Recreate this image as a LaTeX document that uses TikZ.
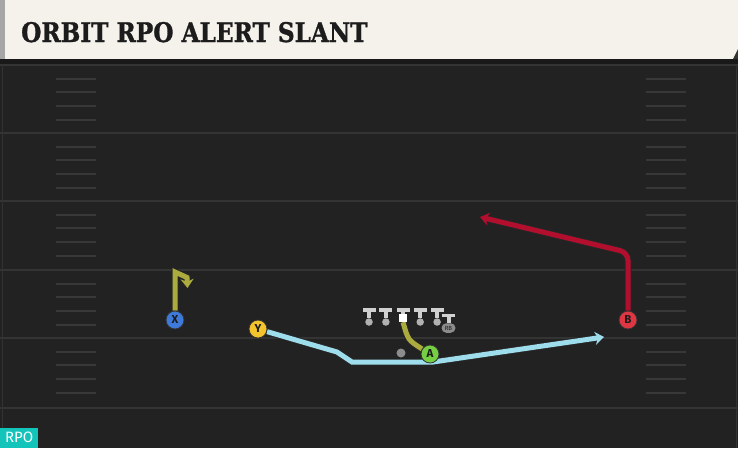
\documentclass[tikz,border=0pt]{standalone}
\usepackage{fontspec}
\setsansfont{Fira Sans}
\newfontfamily\titlefont{DejaVu Serif}[FakeBold=1.2]
\usetikzlibrary{arrows.meta,backgrounds,positioning,calc,shapes.misc}
\definecolor{fieldgray}{RGB}{34,34,34}
\definecolor{linegray}{RGB}{52,52,52}
\definecolor{hashgray}{RGB}{56,56,56}
\definecolor{paper}{RGB}{245,242,235}
\definecolor{inkgray}{RGB}{28,28,28}
\definecolor{rpoteal}{RGB}{18,196,186}
\definecolor{xblue}{RGB}{62,122,218}
\definecolor{yyellow}{RGB}{244,196,44}
\definecolor{agreen}{RGB}{118,206,66}
\definecolor{bred}{RGB}{222,54,66}
\definecolor{routeolive}{RGB}{172,172,62}
\definecolor{routeblue}{RGB}{158,222,236}
\definecolor{routered}{RGB}{178,14,46}
\definecolor{olgray}{RGB}{208,208,208}

\begin{document}
\begin{tikzpicture}[x=1pt, y=-1pt, node distance=9pt, >=Stealth,
			yardLine/.style={line width=1.6pt, color=linegray},
			hashLine/.style={line width=1.4pt, color=hashgray},
			player/.style={draw=black!80, circle, minimum size=18pt, inner sep=0pt, line width=0.8pt, text=inkgray, font=\sffamily\bfseries\fontsize{11.5}{11.5}\selectfont},
			olman/.style={circle, fill=olgray!85!black, minimum size=7.5pt, inner sep=0pt},
			snapBox/.style={rectangle, fill=white, minimum size=8pt, inner sep=0pt},
			rbTag/.style={rounded rectangle, fill=black!45, minimum width=14pt, minimum height=9.5pt, inner sep=0pt, text=inkgray, font=\sffamily\fontsize{6}{6}\selectfont},
			ball/.style={circle, fill=black!45, minimum size=9pt, inner sep=0pt},
			tStem/.style={line width=4pt, color=olgray},
			tBar/.style={fill=olgray},
			routeLine/.style={line width=5pt, preaction={draw=black!85, line width=7pt}},
			routeTip/.style={-{Stealth[length=9pt, width=13pt]}}
			]
			\useasboundingbox (0,0) rectangle (738,448);
			
			\begin{pgfonlayer}{background}
			\fill[fieldgray] (0,0) rectangle (738,448);
			\foreach \y in {65,133,201,270,338,408}
				\draw[yardLine] (0,\y) -- (738,\y);
			\foreach \y in {65,133,201,270,338}
				\foreach \d in {14,27,41,55} {
					\draw[hashLine] (56,\y+\d) -- (96,\y+\d);
					\draw[hashLine] (646,\y+\d) -- (686,\y+\d);
				}
			\draw[black!80, line width=1pt] (2,64) -- (2,448);
			\draw[black!80, line width=1pt] (736,64) -- (736,448);
			
			% header band
			\fill[black!90] (0,59) rectangle (738,64);
			\fill[paper] (0,0) rectangle (738,59);
			\fill[black!35] (0,0) rectangle (5,59);
			\fill[black!80] (733,59) -- (738,59) -- (738,49) -- cycle;
			\end{pgfonlayer}
			
			\node[anchor=base west, inner sep=0pt, text=inkgray, font=\titlefont\bfseries\fontsize{27}{27}\selectfont](title) at (21,42) {\scalebox{0.86}[1]{ORBIT RPO ALERT SLANT}};
			
			\node[anchor=south west, fill=rpoteal, minimum width=38pt, minimum height=20pt, inner sep=0pt, text=white, font=\sffamily\fontsize{15}{15}\selectfont](rpo) at (0,448) {RPO};
			
			% skill players
			\node[player, fill=xblue](X) at (175,320) {X};
			\node[player, fill=yyellow](Y) at (258,329) {Y};
			\node[player, fill=agreen](A) at (430,354) {A};
			\node[player, fill=bred](B) at (628,320) {B};
			\node[ball](ball) at (401,353) {};
			
			% line
			\node[olman](ol1) at (369,322) {};
			\node[olman](ol2) [right = of ol1] {};
			\node[snapBox, yshift=4pt](ol3) [right = of ol2] {};
			\node[olman, yshift=-4pt](ol4) [right = of ol3] {};
			\node[olman](ol5) [right = of ol4] {};
			\node[rbTag](rb) at (448.5,328) {RB};
			
			\coordinate (barline) at (0,312);
			\foreach \n in {ol1,ol2,ol3,ol4,ol5} {
				\draw[tStem] (\n.north) -- (\n.north |- barline);
				\fill[tBar] ($(\n.north |- barline)+(-6.5,0)$) rectangle ++(13,-4);
			}
			\draw[tStem] (rb.north) -- ++(0,-6);
			\fill[tBar] ($(rb.north)+(-6.5,-6)$) rectangle ++(13,-3.5);
			
			% route ends
			\coordinate (x1) at (175,272);
			\coordinate (x2) at (187,277.5);
			\coordinate (x3) at (187.5,288);
			\coordinate (y1) at (337,352);
			\coordinate (y2) at (352,362);
			\coordinate (y3) at (433,362);
			\coordinate (y4) at (604,337);
			\coordinate (b1) at (628,252.5);
			\coordinate (b2) at (480,217);
			
			\begin{pgfonlayer}{background}
			\draw[routeLine, routeTip, routeolive] (X) -- (x1) -- (x2) -- (x3);
			\draw[routeLine, routeTip, routeblue] (Y) -- (y1) -- (y2) -- (y3) -- (y4);
			\draw[routeLine, routeolive] (A) .. controls (408,340) .. (ol3.south);
			\draw[routeLine, routeTip, routered, rounded corners=8pt] (B) -- (b1) -- (b2);
			\end{pgfonlayer}
			
\end{tikzpicture}
\end{document}
